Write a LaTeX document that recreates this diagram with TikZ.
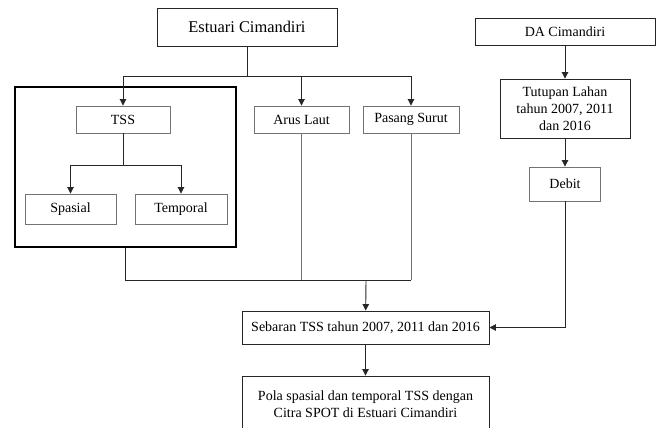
\documentclass[tikz,border=0pt]{standalone}
\usepackage{fontspec}
\setmainfont{Liberation Serif}
\usetikzlibrary{arrows.meta}
\begin{document}
\begin{tikzpicture}[x=1pt,y=-1pt,
  box/.style={draw=black!85, line width=0.9pt, inner sep=0pt, align=center, font=\fontsize{14}{17}\selectfont},
  lbox/.style={box, draw=black!55},
  conn/.style={line width=0.9pt, black!85},
  lconn/.style={line width=0.9pt, black!55},
  arr/.style={-{Triangle[length=6.5pt,width=6.5pt]}}]
\useasboundingbox (0,0) rectangle (659,428);
% nodes
\node[box, minimum width=180pt, minimum height=38pt, font=\fontsize{16.4}{19}\selectfont] (E) at (247,27) {Estuari Cimandiri};
\node[box, minimum width=180pt, minimum height=27pt] (DA) at (565,31.5) {DA Cimandiri};
\node[box, minimum width=130pt, minimum height=59pt] (Tut) at (565,108.5) {Tutupan Lahan\\tahun 2007, 2011\\dan 2016};
\node[lbox, minimum width=71pt, minimum height=34pt] (Deb) at (565,184) {Debit};
\node[draw=black, line width=1.5pt, minimum width=221pt, minimum height=160pt, inner sep=0pt] (grp) at (125.5,167) {};
\node[lbox, minimum width=94pt, minimum height=27pt] (TSS) at (123,119.5) {TSS};
\node[lbox, minimum width=95pt, minimum height=27pt] (Arus) at (301.5,119.5) {Arus Laut};
\node[lbox, minimum width=96pt, minimum height=27pt] (Pas) at (411,119.5) {Pasang Surut};
\node[lbox, minimum width=91pt, minimum height=30pt] (Spa) at (70.5,209) {Spasial};
\node[lbox, minimum width=92pt, minimum height=30pt] (Tem) at (181,209) {Temporal};
\node[box, minimum width=247pt, minimum height=33pt] (Seb) at (365.5,327.5) {Sebaran TSS tahun 2007, 2011 dan 2016};
\node[box, minimum width=247pt, minimum height=57pt] (Pola) at (365.5,404.5) {Pola spasial dan temporal TSS dengan\\Citra SPOT di Estuari Cimandiri};
% junctions
\coordinate (j1) at (247,76);
\coordinate (j2) at (123,165);
\coordinate (j3) at (366,280);
% connectors
\draw[conn] (E) -- (j1);
\draw[conn, arr] (j1) -| (TSS);
\draw[conn, arr] (j1) -| (Arus);
\draw[conn, arr] (j1) -| (Pas);
\draw[conn] (TSS) -- (j2);
\draw[conn, arr] (j2) -| (Spa);
\draw[conn, arr] (j2) -| (Tem);
\draw[lconn] (Arus) -- (Arus |- j3);
\draw[lconn] (Pas) -- (Pas |- j3);
\draw[conn] (grp.south) |- (Pas |- j3);
\draw[conn, arr] (j3) -- (Seb);
\draw[conn, arr] (Seb) -- (Pola);
\draw[conn, arr] (DA) -- (Tut);
\draw[conn, arr] (Tut) -- (Deb);
\draw[conn, arr] (Deb) |- (Seb);
\end{tikzpicture}
\end{document}
